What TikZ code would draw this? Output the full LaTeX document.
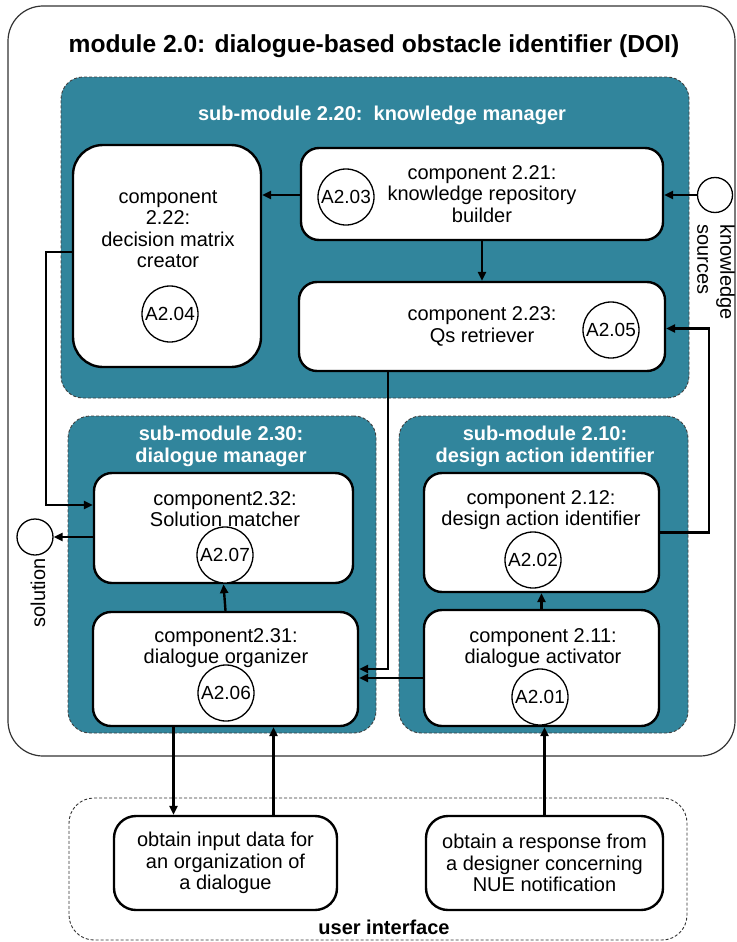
\documentclass[tikz,border=0pt]{standalone}
\usepackage{fontspec}
\setmainfont{Liberation Sans}
\usetikzlibrary{arrows.meta,positioning}
\definecolor{modteal}{HTML}{31859C}

\begin{document}
\begin{tikzpicture}[
    x=1pt, y=-1pt,
    every node/.style={font=\fontsize{20}{21.5}\selectfont},
    comp/.style={draw, line width=2.4pt, fill=white, rounded corners=18pt, align=center},
    ctext/.style={align=center, inner sep=0pt},
    act/.style={circle, draw, line width=1.3pt, fill=white, minimum size=56pt, inner sep=0pt, font=\fontsize{19}{20}\selectfont},
    submod/.style={draw=black!75, dash pattern=on 3pt off 2pt, line width=0.9pt, fill=modteal, rounded corners=22pt},
    sublabel/.style={text=white, align=center, font=\bfseries\fontsize{20}{22}\selectfont},
    port/.style={circle, draw, line width=1.3pt, fill=white, inner sep=0pt},
    conn/.style={line width=2.4pt, -{Triangle[length=9pt,width=8pt]}}
]
\useasboundingbox (0,0) rectangle (736,942);

% module 2.0
\node[draw=black!80, line width=1.2pt, rounded corners=35pt, fill=white,
      minimum width=727pt, minimum height=750pt] (doi) at (371.5,381) {};
\node[font=\bfseries\fontsize{24.6}{28}\selectfont] (doit) at (374,46)
    {module 2.0: dialogue-based obstacle identifier (DOI)};

% sub-modules
\node[submod, minimum width=628pt, minimum height=321pt] (sm220) at (375,237.5) {};
\node[submod, minimum width=308pt, minimum height=317pt] (sm230) at (222,574.5) {};
\node[submod, minimum width=289pt, minimum height=317pt] (sm210) at (543.5,574.5) {};
\node[sublabel] (sm220t) at (382,115) {sub-module 2.20:\ \ knowledge manager};
\node[sublabel] (sm230t) at (221,446) {sub-module 2.30:\\dialogue manager};
\node[sublabel] (sm210t) at (545,446) {sub-module 2.10:\\design action identifier};

% knowledge manager
\node[comp, rounded corners=30pt, minimum width=188pt, minimum height=222pt] (c222) at (167,256) {};
\node[ctext] (c222t) at (168,229) {component\\2.22:\\decision matrix\\creator};
\node[act] (a204) at (170,314) {A2.04};
\node[comp, minimum width=362pt, minimum height=92pt] (c221) at (482,194)
    {component 2.21:\\knowledge repository\\builder};
\node[act] (a203) at (346,197) {A2.03};
\node[comp, minimum width=366pt, minimum height=89pt] (c223) at (482,326.5)
    {component 2.23:\\Qs retriever};
\node[act] (a205) at (611,330) {A2.05};

% dialogue manager
\node[comp, minimum width=259pt, minimum height=110pt] (c232) at (223.5,528) {};
\node[ctext] (c232t) at (225,509) {component2.32:\\Solution matcher};
\node[act] (a207) at (225,555) {A2.07};
\node[comp, minimum width=265pt, minimum height=114pt] (c231) at (225.5,669) {};
\node[ctext] (c231t) at (226,648) {component2.31:\\dialogue organizer};
\node[act] (a206) at (226,693) {A2.06};

% design action identifier
\node[comp, minimum width=235pt, minimum height=119pt] (c212) at (541.5,532.5) {};
\node[ctext] (c212t) at (541,510) {component 2.12:\\design action identifier};
\node[act] (a202) at (533,560) {A2.02};
\node[comp, minimum width=235pt, minimum height=116pt] (c211) at (541.5,668) {};
\node[ctext] (c211t) at (543,648) {component 2.11:\\dialogue activator};
\node[act] (a201) at (540,697) {A2.01};

% inputs and outputs
\node[port, minimum size=35pt] (ks) at (715,195) {};
\node[rotate=-90, align=left, inner sep=0pt, font=\fontsize{20}{23}\selectfont] (kst) at (716,272) {knowledge\\sources};
\node[port, minimum size=36pt] (sol) at (35,537) {};
\node[rotate=90, inner sep=0pt] (solt) at (38,593) {solution};

% user interface
\node[draw=black!80, dash pattern=on 3pt off 2pt, line width=0.9pt, rounded corners=25pt,
      minimum width=618pt, minimum height=142pt] (ui) at (378,869) {};
\node[font=\bfseries\fontsize{20}{22}\selectfont] (uit) at (384,927) {user interface};
\node[comp, rounded corners=22pt, minimum width=223pt, minimum height=94pt] (u1) at (225.5,863)
    {obtain input data for\\an organization of\\a dialogue};
\node[comp, rounded corners=22pt, minimum width=237pt, minimum height=94pt] (u2) at (544.5,863)
    {obtain a response from\\a designer concerning\\NUE notification};

% connectors
\draw[conn] (ks) -- (ks -| c221.east);
\draw[conn] (c221.west |- ks) -- (c222.east |- ks);
\draw[conn] (c221) -- (c221 |- c223.north);
\draw[conn] ([yshift=4pt]c222.west) -- ++(-26,0) |- ([yshift=23pt]c232.west);
\draw[conn] (c232.west |- sol) -- (sol);
\draw[conn] ([xshift=-94pt]c223.south) |- (c231.east);
\draw[conn] ([yshift=-10pt]c211.west) -- ([yshift=-10pt]c211.west -| c231.east);
\draw[conn] (c212.east) -- ++(49,0) |- ([yshift=-2pt]c223.east);
\draw[conn] (c211.north) -- (c212.south);
\draw[conn] (c231.north) -- (c232.south);
\draw[conn] ([xshift=-52pt]u1.north |- c231.south) -- ([xshift=-52pt]u1.north);
\draw[conn] ([xshift=48pt]u1.north) -- ([xshift=48pt]u1.north |- c231.south);
\draw[conn] (u2.north) -- (u2.north |- c211.south);
\end{tikzpicture}
\end{document}
